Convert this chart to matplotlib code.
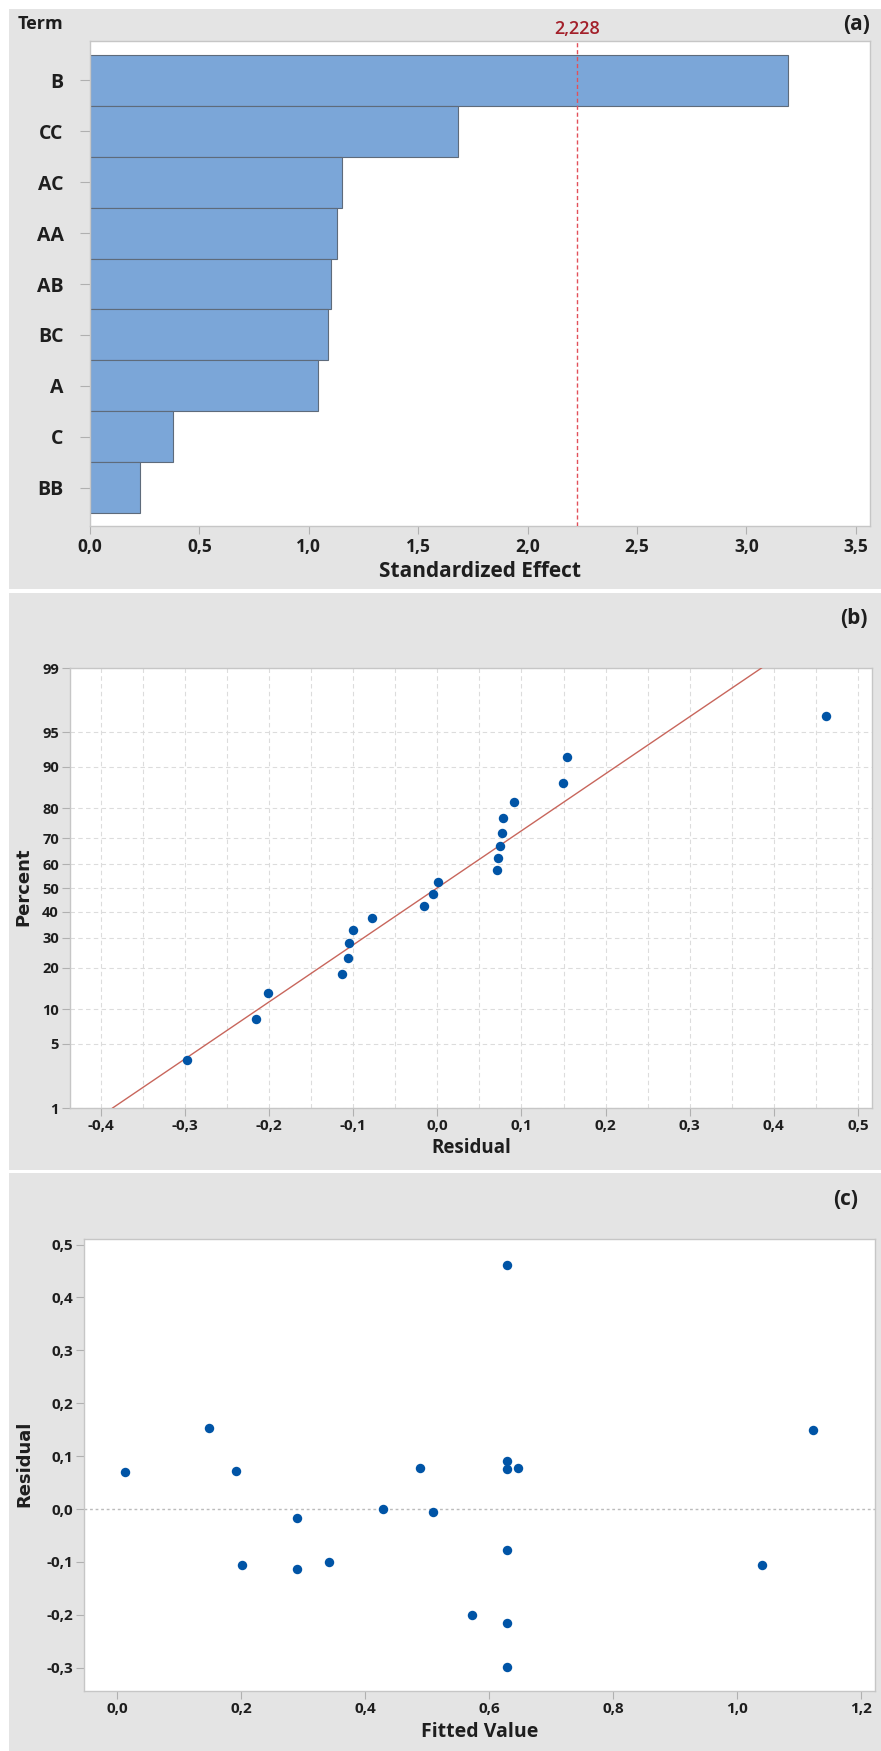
import numpy as np
import matplotlib
matplotlib.use("Agg")
import matplotlib.pyplot as plt
from matplotlib.patches import Rectangle
from matplotlib.ticker import FixedLocator, MultipleLocator
from matplotlib.transforms import blended_transform_factory
from statistics import NormalDist

# ---------------- data ----------------
terms = ["B", "CC", "AC", "AA", "AB", "BC", "A", "C", "BB"]
effects = [3.19, 1.68, 1.15, 1.13, 1.10, 1.09, 1.04, 0.38, 0.23]
critical_value = 2.228
effect_ticks = [0.0, 0.5, 1.0, 1.5, 2.0, 2.5, 3.0, 3.5]
effect_ticklabels = ["0,0", "0,5", "1,0", "1,5", "2,0", "2,5", "3,0", "3,5"]

fitted = [0.013, 0.149, 0.191, 0.202, 0.290, 0.290, 0.342, 0.429, 0.489, 0.509,
          0.572, 0.629, 0.629, 0.629, 0.647, 0.629, 0.629, 0.629, 1.041, 1.123]
residual = [0.071, 0.154, 0.072, -0.106, -0.016, -0.113, -0.100, 0.001, 0.077, -0.005,
            -0.201, 0.462, 0.091, 0.075, 0.078, -0.078, -0.215, -0.298, -0.105, 0.149]
percent = [3.43, 8.33, 13.24, 18.14, 23.04, 27.94, 32.84, 37.75, 42.65, 47.55,
           52.45, 57.35, 62.25, 67.16, 72.06, 76.96, 81.86, 86.76, 91.67, 96.57]

percent_ticks = [1, 5, 10, 20, 30, 40, 50, 60, 70, 80, 90, 95, 99]
percent_ticklabels = ["1", "5", "10", "20", "30", "40", "50", "60", "70", "80", "90", "95", "99"]
resid_ticks_b = [-0.4, -0.3, -0.2, -0.1, 0.0, 0.1, 0.2, 0.3, 0.4, 0.5]
resid_ticklabels_b = ["-0,4", "-0,3", "-0,2", "-0,1", "0,0", "0,1", "0,2", "0,3", "0,4", "0,5"]
fitted_ticks = [0.0, 0.2, 0.4, 0.6, 0.8, 1.0, 1.2]
fitted_ticklabels = ["0,0", "0,2", "0,4", "0,6", "0,8", "1,0", "1,2"]
resid_ticks_c = [-0.3, -0.2, -0.1, 0.0, 0.1, 0.2, 0.3, 0.4, 0.5]
resid_ticklabels_c = ["-0,3", "-0,2", "-0,1", "0,0", "0,1", "0,2", "0,3", "0,4", "0,5"]

# ---------------- style ----------------
BG = "#E4E4E4"
BAR = "#7BA6D8"
BAR_EDGE = "#5E6B7B"
SPINE = "#C6C6C6"
TICKC = "#B0B0B0"
TXT = "#1E1E1E"
DOT = "#0054A6"
FONT = ["Open Sans", "DejaVu Sans"]
WT = "bold"
plt.rcParams["font.family"] = FONT

W, H = 881, 1751
fig = plt.figure(figsize=(W / 100, H / 100), dpi=100)


def box(x0, y0, x1, y1):
    return [x0 / W, 1 - y1 / H, (x1 - x0) / W, (y1 - y0) / H]


def fx(x):
    return x / W


def fy(y):
    return 1 - y / H


for (y0, y1) in [(9, 589), (593, 1170), (1173, 1751)]:
    fig.add_artist(Rectangle((9 / W, 1 - y1 / H), (W - 9) / W, (y1 - y0) / H,
                             transform=fig.transFigure, facecolor=BG,
                             edgecolor="none", zorder=-10))


def style_axes(ax):
    for s in ax.spines.values():
        s.set_color(SPINE)
        s.set_linewidth(1.0)
    ax.tick_params(colors=TICKC, labelcolor=TXT, width=0.8)


# ---------------- (a) Pareto ----------------
axa = fig.add_axes(box(90, 41.5, 870, 526.5))
ypos = np.arange(len(terms))
axa.barh(ypos, effects, height=1.0, color=BAR, edgecolor=BAR_EDGE, linewidth=0.8, zorder=2)
axa.set_ylim(len(terms) - 1 + 0.755, -0.755)
axa.set_xlim(0, 3.565)
axa.axvline(critical_value, color="#E2505A", linestyle=(0, (3, 2)), linewidth=1.0, zorder=3)
style_axes(axa)
axa.set_yticks(ypos)
axa.set_yticklabels(terms, fontsize=14, fontweight=WT)
axa.set_xticks(effect_ticks)
axa.set_xticklabels(effect_ticklabels, fontsize=12.5, fontweight=WT)
axa.tick_params(axis="y", length=7, pad=12)
axa.tick_params(axis="x", length=6, pad=2)
tr = blended_transform_factory(axa.transData, fig.transFigure)
axa.text(critical_value, fy(34.5), f"{critical_value:.3f}".replace(".", ","), transform=tr,
         ha="center", va="baseline", color="#A3202A", fontsize=13, fontweight="semibold")
fig.text(fx(18), fy(29), "Term", ha="left", va="baseline", fontsize=13,
         fontweight=WT, color=TXT)
fig.text(fx(870), fy(24), "(a)", ha="right", va="center", fontsize=15,
         fontweight="bold", color=TXT)
fig.text(fx(480), fy(577), "Standardized Effect", ha="center", va="baseline",
         fontsize=15, fontweight=WT, color=TXT)

# ---------------- (b) normal probability plot ----------------
nd = NormalDist()
_inv = np.vectorize(lambda v: nd.inv_cdf(v / 100.0), otypes=[float])
_cdf = np.vectorize(lambda v: nd.cdf(v) * 100.0, otypes=[float])


def p_forward(p):
    p = np.clip(np.asarray(p, dtype=float), 1e-7, 100 - 1e-7)
    return _inv(p)


def p_inverse(z):
    return _cdf(np.asarray(z, dtype=float))


axb = fig.add_axes(box(70, 668, 872, 1108))
axb.set_yscale("function", functions=(p_forward, p_inverse))
axb.set_ylim(1, 99)
axb.set_xlim(-0.4367, 0.5167)
res_sorted = np.sort(np.array(residual))
mu = float(np.mean(residual))
sd = float(np.std(residual, ddof=1))
fitnd = NormalDist(mu, sd)
axb.plot([fitnd.inv_cdf(0.01), fitnd.inv_cdf(0.99)], [1, 99], color="#C8665C",
         linewidth=1.0, zorder=3)
axb.plot(res_sorted, percent, "o", color=DOT, markersize=6.8, markeredgewidth=0, zorder=4)
style_axes(axb)
axb.yaxis.set_major_locator(FixedLocator(percent_ticks))
axb.set_yticklabels(percent_ticklabels, fontsize=10.5, fontweight=WT)
axb.yaxis.set_minor_locator(FixedLocator([]))
axb.set_xticks(resid_ticks_b)
axb.set_xticklabels(resid_ticklabels_b, fontsize=11, fontweight=WT)
axb.xaxis.set_minor_locator(MultipleLocator(0.05))
axb.tick_params(axis="both", which="major", length=6, pad=2)
axb.tick_params(axis="x", which="minor", length=0)
axb.grid(True, which="both", axis="x", color="#DCDCDC", linestyle=(0, (4, 3)), linewidth=0.8, zorder=0)
axb.grid(True, which="major", axis="y", color="#DCDCDC", linestyle=(0, (4, 3)), linewidth=0.8, zorder=0)
axb.set_axisbelow(True)
fig.text(fx(868), fy(618), "(b)", ha="right", va="center", fontsize=15,
         fontweight="bold", color=TXT)
fig.text(fx(471), fy(1153), "Residual", ha="center", va="baseline", fontsize=13.5,
         fontweight=WT, color=TXT)
fig.text(fx(23), fy(887), "Percent", ha="center", va="center", rotation=90,
         fontsize=13, fontweight="bold", color=TXT, family=["DejaVu Sans"])

# ---------------- (c) residuals vs fits ----------------
axc = fig.add_axes(box(84, 1239, 875, 1691))
axc.set_xlim(-0.0535, 1.223)
axc.set_ylim(-0.344, 0.5106)
axc.axhline(0.0, color="#BBBBBB", linestyle=(0, (2, 2)), linewidth=1.0, zorder=1)
axc.plot(fitted, residual, "o", color=DOT, markersize=6.8, markeredgewidth=0, zorder=4)
style_axes(axc)
axc.set_xticks(fitted_ticks)
axc.set_xticklabels(fitted_ticklabels, fontsize=11, fontweight=WT)
axc.set_yticks(resid_ticks_c)
axc.set_yticklabels(resid_ticklabels_c, fontsize=11, fontweight=WT)
axc.tick_params(axis="both", length=6, pad=2)
fig.text(fx(858), fy(1199), "(c)", ha="right", va="center", fontsize=15,
         fontweight="bold", color=TXT)
fig.text(fx(480), fy(1737), "Fitted Value", ha="center", va="baseline", fontsize=14,
         fontweight=WT, color=TXT)
fig.text(fx(24), fy(1464), "Residual", ha="center", va="center", rotation=90,
         fontsize=13, fontweight="bold", color=TXT, family=["DejaVu Sans"])

fig.savefig("out.png", dpi=100, facecolor="white")
